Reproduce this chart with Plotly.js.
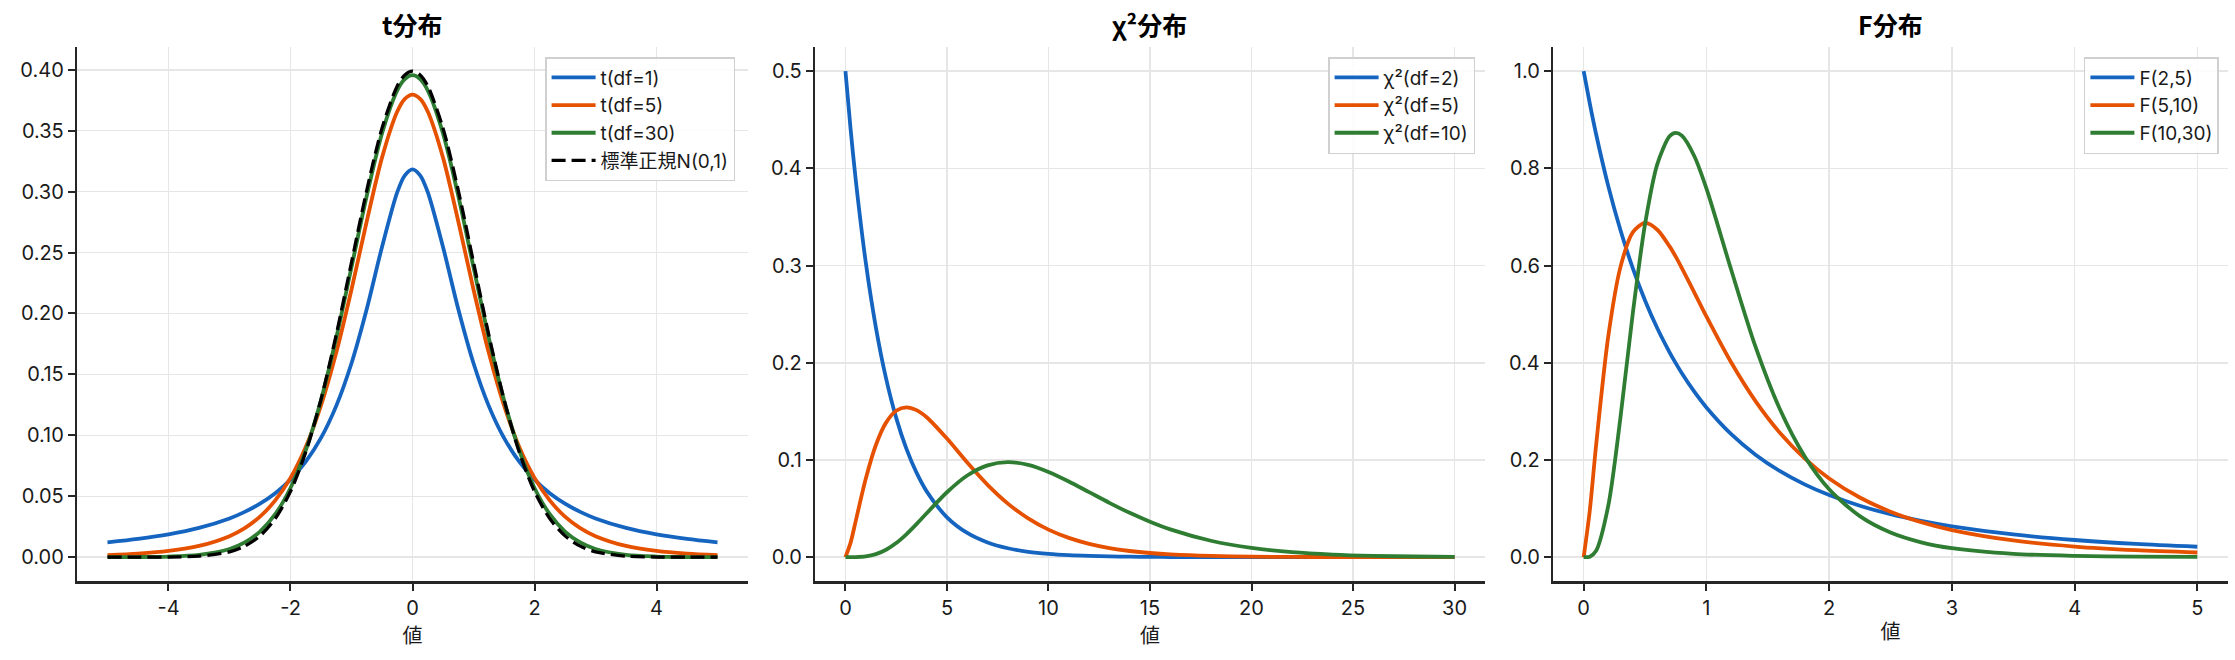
<!DOCTYPE html>
<html>
<head>
<meta charset="utf-8">
<script src="https://cdn.plot.ly/plotly-3.0.1.min.js"></script>
<style>html,body{margin:0;padding:0;background:#fff;}#chart{width:2235px;height:660px;}</style>
</head>
<body>
<div id="chart"></div>
<script>
// ---- t distribution ----
const tX = [-5,-4.5,-4,-3.5,-3,-2.75,-2.5,-2.25,-2,-1.75,-1.5,-1.25,-1,-0.75,-0.5,-0.25,-0.125,0,0.125,0.25,0.5,0.75,1,1.25,1.5,1.75,2,2.25,2.5,2.75,3,3.5,4,4.5,5];
const tDf1 = [0.0122,0.0150,0.0187,0.0240,0.0318,0.0372,0.0439,0.0525,0.0637,0.0784,0.0979,0.1242,0.1592,0.2037,0.2546,0.2996,0.3134,0.3183,0.3134,0.2996,0.2546,0.2037,0.1592,0.1242,0.0979,0.0784,0.0637,0.0525,0.0439,0.0372,0.0318,0.0240,0.0187,0.0150,0.0122];
const tDf5 = [0.00176,0.00295,0.00512,0.00924,0.0173,0.0239,0.0333,0.0466,0.0651,0.0905,0.1245,0.1679,0.2197,0.2757,0.3279,0.3657,0.3761,0.3796,0.3761,0.3657,0.3279,0.2757,0.2197,0.1679,0.1245,0.0905,0.0651,0.0466,0.0333,0.0239,0.0173,0.00924,0.00512,0.00295,0.00176];
const tDf30 = [0.00003,0.00013,0.00053,0.00196,0.00678,0.01214,0.02106,0.0353,0.0568,0.0877,0.1290,0.1801,0.2380,0.2966,0.3478,0.3831,0.3924,0.3956,0.3924,0.3831,0.3478,0.2966,0.2380,0.1801,0.1290,0.0877,0.0568,0.0353,0.02106,0.01214,0.00678,0.00196,0.00053,0.00013,0.00003];
const tNorm = [0.0000015,0.000016,0.000134,0.000873,0.00443,0.00909,0.0175,0.0317,0.0540,0.0863,0.1295,0.1826,0.2420,0.3011,0.3521,0.3867,0.3958,0.3989,0.3958,0.3867,0.3521,0.3011,0.2420,0.1826,0.1295,0.0863,0.0540,0.0317,0.0175,0.00909,0.00443,0.000873,0.000134,0.000016,0.0000015];
const tNames = ["t(df=1)","t(df=5)","t(df=30)","標準正規N(0,1)"];
const tTickVals = [-4,-2,0,2,4];
const tTickText = ["-4","-2","0","2","4"];

// ---- chi-square distribution ----
const cX = [0,0.25,0.5,1,1.5,2,2.5,3,3.5,4,5,6,7,8,9,10,11,12,13,14,15,16,18,20,22,24,26,28,30];
const cDf2 = [0.5,0.4412,0.3894,0.3033,0.2362,0.1839,0.1433,0.1116,0.0869,0.0677,0.0410,0.0249,0.0151,0.00916,0.00555,0.00337,0.00204,0.00124,0.00075,0.00046,0.00028,0.00017,0.00006,0.00002,0.00001,0,0,0,0];
const cDf5 = [0,0.01467,0.03662,0.08066,0.1154,0.1384,0.1506,0.1542,0.1513,0.1440,0.1220,0.0973,0.0744,0.0551,0.0399,0.0283,0.0198,0.0137,0.00937,0.00635,0.00427,0.00286,0.00125,0.00054,0.00023,0.0001,0.00004,0.00002,0.00001];
const cDf10 = [0,0.0000045,0.0000634,0.00079,0.00311,0.00766,0.01457,0.02353,0.03395,0.04511,0.0668,0.0840,0.0944,0.0977,0.0949,0.0877,0.0779,0.0669,0.0559,0.0456,0.0365,0.0286,0.0169,0.00946,0.00509,0.00265,0.00135,0.00067,0.00032];
const cNames = ["χ²(df=2)","χ²(df=5)","χ²(df=10)"];

// ---- F distribution ----
const fX = [0,0.05,0.1,0.2,0.3,0.4,0.5,0.6,0.7,0.75,0.8,0.9,1,1.2,1.4,1.6,1.8,2,2.25,2.5,2.75,3,3.5,4,4.5,5];
const f2_5 = [1,0.9330,0.8717,0.7639,0.6726,0.5949,0.5283,0.4710,0.4215,0.3992,0.3784,0.3409,0.3080,0.2536,0.2109,0.1770,0.1498,0.1278,0.1058,0.0884,0.0745,0.0633,0.0467,0.0353,0.0272,0.0214];
const f5_10 = [0,0.0963,0.2274,0.4538,0.5973,0.6683,0.6877,0.6737,0.6394,0.6183,0.5948,0.5454,0.4954,0.4014,0.3210,0.2554,0.2032,0.1620,0.1227,0.0936,0.0720,0.0558,0.0344,0.0219,0.0143,0.0096];
const f10_30 = [0,0.00107,0.01242,0.1053,0.2880,0.5011,0.6852,0.8087,0.8661,0.8732,0.8672,0.8260,0.7587,0.5929,0.4330,0.3037,0.2077,0.1398,0.0844,0.0507,0.0306,0.0185,0.0069,0.0027,0.0011,0.00045];
const fNames = ["F(2,5)","F(5,10)","F(10,30)"];

const panelTitles = ["t分布","χ²分布","F分布"];
const xTitle = "値";

const colors = ["#1565C0","#E65100","#2E7D32","#000000"];
const FONT = "Inter, 'Noto Sans CJK JP', sans-serif";
const TFONT = "'Noto Sans CJK JP', sans-serif";
const LW = 3.8;

function tr(x, y, name, i, xa, ya, lg, dash) {
  return {x: x, y: y, name: name, type: 'scatter', mode: 'lines',
    xaxis: xa, yaxis: ya, legend: lg,
    line: {color: colors[i], width: dash ? 3.3 : LW, shape: 'spline', smoothing: 0.8, dash: dash || 'solid'}};
}

const data = [
  tr(tX, tDf1, tNames[0], 0, 'x', 'y', 'legend'),
  tr(tX, tDf5, tNames[1], 1, 'x', 'y', 'legend'),
  tr(tX, tDf30, tNames[2], 2, 'x', 'y', 'legend'),
  tr(tX, tNorm, tNames[3], 3, 'x', 'y', 'legend', '14px,6px'),
  tr(cX, cDf2, cNames[0], 0, 'x2', 'y2', 'legend2'),
  tr(cX, cDf5, cNames[1], 1, 'x2', 'y2', 'legend2'),
  tr(cX, cDf10, cNames[2], 2, 'x2', 'y2', 'legend2'),
  tr(fX, f2_5, fNames[0], 0, 'x3', 'y3', 'legend3'),
  tr(fX, f5_10, fNames[1], 1, 'x3', 'y3', 'legend3'),
  tr(fX, f10_30, fNames[2], 2, 'x3', 'y3', 'legend3')
];

const gridC = '#e6e6e6';
const axC = '#262626';
function xax(domain, range, anchor, extra) {
  return Object.assign({domain: domain, range: range, anchor: anchor,
    showgrid: true, gridcolor: gridC, gridwidth: 1.5, zeroline: false,
    showline: true, linecolor: axC, linewidth: 2.2, mirror: false,
    ticks: 'outside', ticklen: 7, tickwidth: 2, tickcolor: axC,
    tickfont: {family: FONT, size: 20, color: '#1a1a1a'},
    title: {text: xTitle, font: {family: TFONT, size: 20, color: '#1a1a1a'}, standoff: 6}}, extra || {});
}
function yax(range, anchor, dtick, fmt) {
  return {domain: [0.119, 0.929], range: range, anchor: anchor,
    showgrid: true, gridcolor: gridC, gridwidth: 1.5, zeroline: false,
    showline: true, linecolor: axC, linewidth: 2.2, mirror: false,
    ticks: 'outside', ticklen: 7, tickwidth: 2, tickcolor: axC,
    dtick: dtick, tick0: 0, tickformat: fmt,
    tickfont: {family: FONT, size: 20, color: '#1a1a1a'}};
}
function leg(xr) {
  return {x: xr, y: 0.9136, xanchor: 'right', yanchor: 'top',
    bgcolor: 'rgba(255,255,255,0.85)', bordercolor: '#d0d0d0', borderwidth: 1.5,
    itemwidth: 44,
    font: {family: FONT, size: 19, color: '#1a1a1a'}, tracegroupgap: 0};
}
function ttl(text, xc) {
  return {text: text, x: xc, y: 0.9636, xref: 'paper', yref: 'paper',
    xanchor: 'center', yanchor: 'middle', showarrow: false,
    font: {family: TFONT, size: 25, color: '#000', weight: 'bold'}};
}

const layout = {
  width: 2235, height: 660,
  margin: {l: 0, r: 0, t: 0, b: 0},
  paper_bgcolor: '#fff', plot_bgcolor: '#fff',
  showlegend: true,
  xaxis: xax([0.03445, 0.33468], [-5.5, 5.5], 'y', {tickvals: tTickVals, ticktext: tTickText}),
  yaxis: yax([-0.0199, 0.4188], 'x', 0.05, '.2f'),
  xaxis2: xax([0.36465, 0.66443], [-1.5, 31.5], 'y2', {dtick: 5, tick0: 0}),
  yaxis2: yax([-0.025, 0.525], 'x2', 0.1, '.1f'),
  xaxis3: xax([0.69485, 0.99687], [-0.25, 5.25], 'y3', {dtick: 1, tick0: 0}),
  yaxis3: yax([-0.05, 1.05], 'x3', 0.2, '.1f'),
  legend: leg(0.3289),
  legend2: leg(0.6600),
  legend3: leg(0.9928),
  annotations: [
    ttl(panelTitles[0], (0.03445 + 0.33468) / 2),
    ttl(panelTitles[1], (0.36465 + 0.66443) / 2),
    ttl(panelTitles[2], (0.69485 + 0.99687) / 2)
  ]
};

Plotly.newPlot('chart', data, layout, {displayModeBar: false, staticPlot: true});
</script>
</body>
</html>
